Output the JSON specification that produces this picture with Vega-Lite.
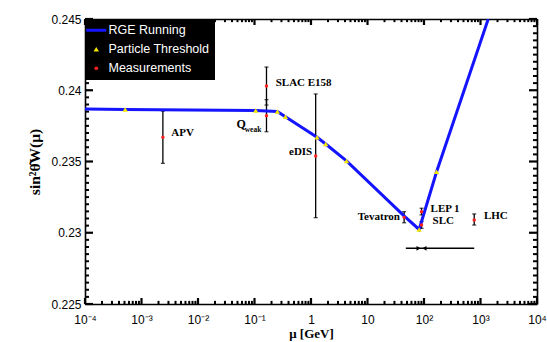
{
  "$schema": "https://vega.github.io/schema/vega-lite/v6.json",
  "width": 452,
  "height": 285,
  "autosize": {"type": "none"},
  "padding": {"left": 85, "top": 19, "right": 10, "bottom": 38},
  "background": "white",
  "config": {
    "view": {"stroke": null},
    "axis": {
      "domainColor": "black", "domainWidth": 1.6, "ticks": false,
      "labelColor": "black", "titleColor": "black", "grid": false,
      "labelFont": "Liberation Sans", "labelFontSize": 12, "labelFlush": false, "labelOverlap": false,
      "titleFont": "Liberation Serif", "titleFontWeight": "bold"
    },
    "legend": {
      "orient": "top-left", "offset": 0, "fillColor": "black", "padding": 5, "zindex": 5,
      "labelColor": "white", "labelFont": "Liberation Sans", "labelFontSize": 12.5,
      "rowPadding": 6, "labelOffset": 6, "symbolSize": 400
    }
  },
  "datasets": {
    "rge": [
      {"mu": 0.0001, "v": 0.23868},
      {"mu": 0.000515, "v": 0.23865},
      {"mu": 0.105, "v": 0.23858},
      {"mu": 0.254, "v": 0.23851},
      {"mu": 0.352, "v": 0.23814},
      {"mu": 1.28, "v": 0.2367},
      {"mu": 1.82, "v": 0.23623},
      {"mu": 4.25, "v": 0.23504},
      {"mu": 45.8, "v": 0.23113},
      {"mu": 82, "v": 0.23023},
      {"mu": 167, "v": 0.23428},
      {"mu": 1371, "v": 0.245}
    ],
    "thresholds": [
      {"mu": 0.000515, "v": 0.23865},
      {"mu": 0.105, "v": 0.23858},
      {"mu": 0.254, "v": 0.23851},
      {"mu": 0.352, "v": 0.23814},
      {"mu": 1.28, "v": 0.2367},
      {"mu": 1.82, "v": 0.23623},
      {"mu": 4.25, "v": 0.23504},
      {"mu": 82, "v": 0.23023},
      {"mu": 167, "v": 0.23428}
    ],
    "meas": [
      {"name": "APV", "mu": 0.00239, "v": 0.2367, "lo": 0.23487, "hi": 0.23854},
      {"name": "SLAC E158", "mu": 0.163, "v": 0.2403, "lo": 0.23896, "hi": 0.24163},
      {"name": "Qweak", "mu": 0.163, "v": 0.23821, "lo": 0.23709, "hi": 0.23934},
      {"name": "eDIS", "mu": 1.21, "v": 0.23539, "lo": 0.23106, "hi": 0.23974},
      {"name": "Tevatron", "mu": 44.5, "v": 0.23108, "lo": 0.2307, "hi": 0.23148},
      {"name": "LEP 1", "mu": 90.5, "v": 0.23148, "lo": 0.23125, "hi": 0.23172},
      {"name": "SLC", "mu": 90.5, "v": 0.23054, "lo": 0.23031, "hi": 0.23078},
      {"name": "LHC", "mu": 774, "v": 0.2309, "lo": 0.23054, "hi": 0.23132}
    ],
    "labels": [
      {"text": "APV", "mu": 0.00336, "v": 0.237},
      {"text": "SLAC E158", "mu": 0.237, "v": 0.24053},
      {"text": "eDIS", "mu": 0.408, "v": 0.23569},
      {"text": "Tevatron", "mu": 6.73, "v": 0.23113},
      {"text": "LEP 1", "mu": 130.6, "v": 0.23167},
      {"text": "SLC", "mu": 141.9, "v": 0.23082},
      {"text": "LHC", "mu": 1150, "v": 0.23118}
    ],
    "qmain": [{"text": "Q", "mu": 0.0478, "v": 0.23763}],
    "qsub": [{"text": "weak", "mu": 0.067, "v": 0.23718}],
    "hbar": [{"lo": 47.7, "hi": 774, "v": 0.22891}],
    "bowtie": [
      {"dir": "right", "mu": 80, "v": 0.22891},
      {"dir": "left", "mu": 102, "v": 0.22891}
    ],
    "xmaj": [{"mu": 0.0001}, {"mu": 0.001}, {"mu": 0.01}, {"mu": 0.1}, {"mu": 1}, {"mu": 10}, {"mu": 100}, {"mu": 1000}, {"mu": 10000}],
    "xmin": [
      {"mu": 0.0002}, {"mu": 0.0003}, {"mu": 0.0004}, {"mu": 0.0005}, {"mu": 0.0006}, {"mu": 0.0007}, {"mu": 0.0008}, {"mu": 0.0009},
      {"mu": 0.002}, {"mu": 0.003}, {"mu": 0.004}, {"mu": 0.005}, {"mu": 0.006}, {"mu": 0.007}, {"mu": 0.008}, {"mu": 0.009},
      {"mu": 0.02}, {"mu": 0.03}, {"mu": 0.04}, {"mu": 0.05}, {"mu": 0.06}, {"mu": 0.07}, {"mu": 0.08}, {"mu": 0.09},
      {"mu": 0.2}, {"mu": 0.3}, {"mu": 0.4}, {"mu": 0.5}, {"mu": 0.6}, {"mu": 0.7}, {"mu": 0.8}, {"mu": 0.9},
      {"mu": 2}, {"mu": 3}, {"mu": 4}, {"mu": 5}, {"mu": 6}, {"mu": 7}, {"mu": 8}, {"mu": 9},
      {"mu": 20}, {"mu": 30}, {"mu": 40}, {"mu": 50}, {"mu": 60}, {"mu": 70}, {"mu": 80}, {"mu": 90},
      {"mu": 200}, {"mu": 300}, {"mu": 400}, {"mu": 500}, {"mu": 600}, {"mu": 700}, {"mu": 800}, {"mu": 900},
      {"mu": 2000}, {"mu": 3000}, {"mu": 4000}, {"mu": 5000}, {"mu": 6000}, {"mu": 7000}, {"mu": 8000}, {"mu": 9000}
    ],
    "ymaj": [{"v": 0.225}, {"v": 0.23}, {"v": 0.235}, {"v": 0.24}, {"v": 0.245}],
    "ymin": [
      {"v": 0.2255}, {"v": 0.226}, {"v": 0.2265}, {"v": 0.227}, {"v": 0.2275}, {"v": 0.228}, {"v": 0.2285}, {"v": 0.229}, {"v": 0.2295},
      {"v": 0.2305}, {"v": 0.231}, {"v": 0.2315}, {"v": 0.232}, {"v": 0.2325}, {"v": 0.233}, {"v": 0.2335}, {"v": 0.234}, {"v": 0.2345},
      {"v": 0.2355}, {"v": 0.236}, {"v": 0.2365}, {"v": 0.237}, {"v": 0.2375}, {"v": 0.238}, {"v": 0.2385}, {"v": 0.239}, {"v": 0.2395},
      {"v": 0.2405}, {"v": 0.241}, {"v": 0.2415}, {"v": 0.242}, {"v": 0.2425}, {"v": 0.243}, {"v": 0.2435}, {"v": 0.244}, {"v": 0.2445}
    ]
  },
  "resolve": {"axis": {"x": "independent", "y": "independent"}},
  "layer": [
    {
      "data": {"name": "xmaj"},
      "mark": {"type": "rule", "color": "black", "strokeWidth": 2.2},
      "encoding": {
        "x": {"field": "mu", "type": "quantitative", "scale": {"type": "log", "domain": [0.0001, 10000]},
          "axis": {"orient": "bottom", "values": [0.0001, 0.001, 0.01, 0.1, 1, 10, 100, 1000, 10000],
            "labelExpr": "datum.value < 0.00015 ? '10⁻⁴' : datum.value < 0.0015 ? '10⁻³' : datum.value < 0.015 ? '10⁻²' : datum.value < 0.15 ? '10⁻¹' : datum.value < 1.5 ? '1' : datum.value < 15 ? '10' : datum.value < 150 ? '10²' : datum.value < 1500 ? '10³' : '10⁴'",
            "labelPadding": 10, "title": "μ [GeV]", "titleFontSize": 13, "titlePadding": 2}},
        "y": {"datum": 0.225, "type": "quantitative", "scale": {"domain": [0.225, 0.245], "nice": false, "zero": false},
          "axis": {"orient": "left", "values": [0.225, 0.23, 0.235, 0.24, 0.245], "format": ".3~f",
            "labelPadding": 4, "title": "sin²θ̂W(μ)", "titleFontSize": 15.5, "titlePadding": 8}},
        "y2": {"datum": 0.22542}
      }
    },
    {
      "data": {"name": "xmin"},
      "mark": {"type": "rule", "color": "black", "strokeWidth": 2},
      "encoding": {
        "x": {"field": "mu", "type": "quantitative", "scale": {"type": "log", "domain": [0.0001, 10000]},
          "axis": {"orient": "top", "labels": false, "domain": true, "values": [], "title": null}},
        "y": {"datum": 0.225, "type": "quantitative", "scale": {"domain": [0.225, 0.245], "nice": false, "zero": false},
          "axis": {"orient": "right", "labels": false, "domain": true, "values": [], "title": null}},
        "y2": {"datum": 0.22522}
      }
    },
    {
      "data": {"name": "xmaj"},
      "mark": {"type": "rule", "color": "black", "strokeWidth": 2.2},
      "encoding": {
        "x": {"field": "mu", "type": "quantitative", "scale": {"type": "log", "domain": [0.0001, 10000]}, "axis": null},
        "y": {"datum": 0.245, "type": "quantitative", "scale": {"domain": [0.225, 0.245], "nice": false, "zero": false}, "axis": null},
        "y2": {"datum": 0.24458}
      }
    },
    {
      "data": {"name": "xmin"},
      "mark": {"type": "rule", "color": "black", "strokeWidth": 2},
      "encoding": {
        "x": {"field": "mu", "type": "quantitative", "scale": {"type": "log", "domain": [0.0001, 10000]}, "axis": null},
        "y": {"datum": 0.245, "type": "quantitative", "scale": {"domain": [0.225, 0.245], "nice": false, "zero": false}, "axis": null},
        "y2": {"datum": 0.24478}
      }
    },
    {
      "data": {"name": "ymaj"},
      "mark": {"type": "rule", "color": "black", "strokeWidth": 2.2},
      "encoding": {
        "y": {"field": "v", "type": "quantitative", "scale": {"domain": [0.225, 0.245], "nice": false, "zero": false}, "axis": null},
        "x": {"datum": 0.0001, "type": "quantitative", "scale": {"type": "log", "domain": [0.0001, 10000]}, "axis": null},
        "x2": {"datum": 0.0001386}
      }
    },
    {
      "data": {"name": "ymin"},
      "mark": {"type": "rule", "color": "black", "strokeWidth": 2},
      "encoding": {
        "y": {"field": "v", "type": "quantitative", "scale": {"domain": [0.225, 0.245], "nice": false, "zero": false}, "axis": null},
        "x": {"datum": 0.0001, "type": "quantitative", "scale": {"type": "log", "domain": [0.0001, 10000]}, "axis": null},
        "x2": {"datum": 0.0001177}
      }
    },
    {
      "data": {"name": "ymaj"},
      "mark": {"type": "rule", "color": "black", "strokeWidth": 2.2},
      "encoding": {
        "y": {"field": "v", "type": "quantitative", "scale": {"domain": [0.225, 0.245], "nice": false, "zero": false}, "axis": null},
        "x": {"datum": 10000, "type": "quantitative", "scale": {"type": "log", "domain": [0.0001, 10000]}, "axis": null},
        "x2": {"datum": 7215}
      }
    },
    {
      "data": {"name": "ymin"},
      "mark": {"type": "rule", "color": "black", "strokeWidth": 2},
      "encoding": {
        "y": {"field": "v", "type": "quantitative", "scale": {"domain": [0.225, 0.245], "nice": false, "zero": false}, "axis": null},
        "x": {"datum": 10000, "type": "quantitative", "scale": {"type": "log", "domain": [0.0001, 10000]}, "axis": null},
        "x2": {"datum": 8496}
      }
    },
    {
      "data": {"name": "meas"},
      "mark": {"type": "rule", "color": "black", "strokeWidth": 1.3},
      "encoding": {
        "x": {"field": "mu", "type": "quantitative", "scale": {"type": "log", "domain": [0.0001, 10000]}, "axis": null},
        "y": {"field": "lo", "type": "quantitative", "scale": {"domain": [0.225, 0.245], "nice": false, "zero": false}, "axis": null},
        "y2": {"field": "hi"}
      }
    },
    {
      "data": {"name": "meas"},
      "transform": [{"fold": ["lo", "hi"], "as": ["end", "val"]}],
      "mark": {"type": "tick", "orient": "horizontal", "color": "black", "size": 4, "thickness": 1.3},
      "encoding": {
        "x": {"field": "mu", "type": "quantitative", "scale": {"type": "log", "domain": [0.0001, 10000]}, "axis": null},
        "y": {"field": "val", "type": "quantitative", "scale": {"domain": [0.225, 0.245], "nice": false, "zero": false}, "axis": null}
      }
    },
    {
      "data": {"name": "hbar"},
      "mark": {"type": "rule", "color": "black", "strokeWidth": 1.5},
      "encoding": {
        "x": {"field": "lo", "type": "quantitative", "scale": {"type": "log", "domain": [0.0001, 10000]}, "axis": null},
        "x2": {"field": "hi"},
        "y": {"field": "v", "type": "quantitative", "scale": {"domain": [0.225, 0.245], "nice": false, "zero": false}, "axis": null}
      }
    },
    {
      "data": {"name": "bowtie"},
      "transform": [{"filter": "datum.dir === 'right'"}],
      "mark": {"type": "point", "shape": "triangle-right", "filled": true, "color": "black", "size": 22, "opacity": 1},
      "encoding": {
        "x": {"field": "mu", "type": "quantitative", "scale": {"type": "log", "domain": [0.0001, 10000]}, "axis": null},
        "y": {"field": "v", "type": "quantitative", "scale": {"domain": [0.225, 0.245], "nice": false, "zero": false}, "axis": null}
      }
    },
    {
      "data": {"name": "bowtie"},
      "transform": [{"filter": "datum.dir === 'left'"}],
      "mark": {"type": "point", "shape": "triangle-left", "filled": true, "color": "black", "size": 22, "opacity": 1},
      "encoding": {
        "x": {"field": "mu", "type": "quantitative", "scale": {"type": "log", "domain": [0.0001, 10000]}, "axis": null},
        "y": {"field": "v", "type": "quantitative", "scale": {"domain": [0.225, 0.245], "nice": false, "zero": false}, "axis": null}
      }
    },
    {
      "data": {"name": "rge"},
      "mark": {"type": "line", "color": "#1414ff", "strokeWidth": 3, "clip": true},
      "encoding": {
        "x": {"field": "mu", "type": "quantitative", "scale": {"type": "log", "domain": [0.0001, 10000]}, "axis": null},
        "y": {"field": "v", "type": "quantitative", "scale": {"domain": [0.225, 0.245], "nice": false, "zero": false}, "axis": null},
        "color": {"datum": "RGE Running", "type": "nominal",
          "scale": {"domain": ["RGE Running", "Particle Threshold", "Measurements"], "range": ["#1414ff", "#f2e600", "#ff2020"]},
          "legend": {"title": null,
            "encode": {"symbols": {"update": {
              "size": {"signal": "datum.value === 'RGE Running' ? 400 : datum.value === 'Particle Threshold' ? 30 : 14"},
              "strokeWidth": {"signal": "datum.value === 'RGE Running' ? 3 : 0"},
              "stroke": {"scale": "color", "field": "value"},
              "fill": {"scale": "color", "field": "value"}
            }}}}}
      }
    },
    {
      "data": {"name": "meas"},
      "mark": {"type": "point", "filled": true, "size": 12, "opacity": 1},
      "encoding": {
        "x": {"field": "mu", "type": "quantitative", "scale": {"type": "log", "domain": [0.0001, 10000]}, "axis": null},
        "y": {"field": "v", "type": "quantitative", "scale": {"domain": [0.225, 0.245], "nice": false, "zero": false}, "axis": null},
        "color": {"datum": "Measurements", "type": "nominal", "legend": {"title": null}},
        "shape": {"datum": "Measurements", "type": "nominal",
          "scale": {"domain": ["RGE Running", "Particle Threshold", "Measurements"], "range": ["stroke", "triangle-up", "circle"]},
          "legend": {"title": null}}
      }
    },
    {
      "data": {"name": "thresholds"},
      "mark": {"type": "point", "filled": true, "size": 28, "opacity": 1},
      "encoding": {
        "x": {"field": "mu", "type": "quantitative", "scale": {"type": "log", "domain": [0.0001, 10000]}, "axis": null},
        "y": {"field": "v", "type": "quantitative", "scale": {"domain": [0.225, 0.245], "nice": false, "zero": false}, "axis": null},
        "color": {"datum": "Particle Threshold", "type": "nominal", "legend": {"title": null}},
        "shape": {"datum": "Particle Threshold", "type": "nominal", "legend": {"title": null}}
      }
    },
    {
      "data": {"name": "labels"},
      "mark": {"type": "text", "font": "Liberation Serif", "fontWeight": "bold", "fontSize": 11, "align": "left", "baseline": "middle", "color": "black"},
      "encoding": {
        "x": {"field": "mu", "type": "quantitative", "scale": {"type": "log", "domain": [0.0001, 10000]}, "axis": null},
        "y": {"field": "v", "type": "quantitative", "scale": {"domain": [0.225, 0.245], "nice": false, "zero": false}, "axis": null},
        "text": {"field": "text"}
      }
    },
    {
      "data": {"name": "qmain"},
      "mark": {"type": "text", "font": "Liberation Serif", "fontWeight": "bold", "fontSize": 12, "align": "left", "baseline": "middle", "color": "black"},
      "encoding": {
        "x": {"field": "mu", "type": "quantitative", "scale": {"type": "log", "domain": [0.0001, 10000]}, "axis": null},
        "y": {"field": "v", "type": "quantitative", "scale": {"domain": [0.225, 0.245], "nice": false, "zero": false}, "axis": null},
        "text": {"field": "text"}
      }
    },
    {
      "data": {"name": "qsub"},
      "mark": {"type": "text", "font": "Liberation Serif", "fontWeight": "bold", "fontSize": 7.5, "align": "left", "baseline": "middle", "color": "black"},
      "encoding": {
        "x": {"field": "mu", "type": "quantitative", "scale": {"type": "log", "domain": [0.0001, 10000]}, "axis": null},
        "y": {"field": "v", "type": "quantitative", "scale": {"domain": [0.225, 0.245], "nice": false, "zero": false}, "axis": null},
        "text": {"field": "text"}
      }
    }
  ]
}
